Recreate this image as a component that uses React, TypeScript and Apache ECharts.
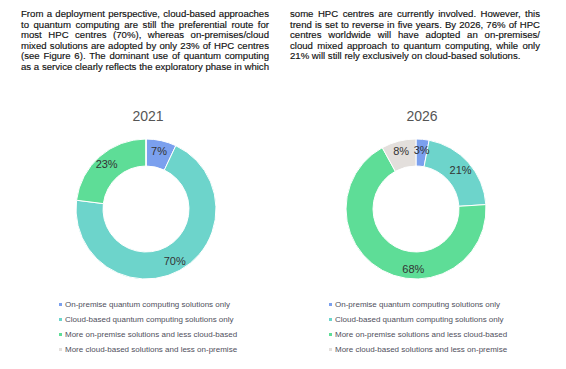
import React, { useEffect, useRef } from "react";
import * as echarts from "echarts";

const categories = [
  "On-premise quantum computing solutions only",
  "Cloud-based quantum computing solutions only",
  "More on-premise solutions and less cloud-based",
  "More cloud-based solutions and less on-premise",
];
const colors = ["#7ba0ee", "#6dd4cb", "#5edd97", "#e3dfdc"];
const values2021 = [7, 70, 23, 0];
const values2026 = [3, 21, 68, 8];
const years = ["2021", "2026"];

const leftLines = [
  "From a deployment perspective, cloud-based approaches",
  "to quantum computing are still the preferential route for",
  "most HPC centres (70%), whereas on-premises/cloud",
  "mixed solutions are adopted by only 23% of HPC centres",
  "(see Figure 6). The dominant use of quantum computing",
  "as a service clearly reflects the exploratory phase in which",
];
const rightLines = [
  "some HPC centres are currently involved. However, this",
  "trend is set to reverse in five years. By 2026, 76% of HPC",
  "centres worldwide will have adopted an on-premises/",
  "cloud mixed approach to quantum computing, while only",
  "21% will still rely exclusively on cloud-based solutions.",
];

function buildData(vals: number[], labelOffsets: Record<number, number[]>) {
  return categories.map((name, i) => {
    const item: any = { name, value: vals[i], itemStyle: { color: colors[i] } };
    if (vals[i] === 0) item.label = { show: false };
    else if (labelOffsets[i]) item.label = { offset: labelOffsets[i] };
    return item;
  });
}

export default function App() {
  const ref = useRef<HTMLDivElement>(null);
  useEffect(() => {
    if (!ref.current) return;
    const chart = echarts.init(ref.current, undefined, { renderer: "svg" });
    const centers = [146, 416];
    const titleCenters = [143, 417];
    const legendLeft = [52, 322];
    const offsets = [{}, { 2: [26, 8] }];
    chart.setOption({
      animation: false,
      title: years.map((y, i) => ({
        text: y,
        left: titleCenters[i],
        top: 104,
        textAlign: "center",
        textStyle: {
          fontSize: 14,
          fontWeight: "normal",
          color: "#555",
          fontFamily: "Liberation Sans, Arial, sans-serif",
        },
      })),
      legend: legendLeft.map((l) => ({
        orient: "vertical",
        left: l,
        top: 294.5,
        itemWidth: 5,
        itemHeight: 5,
        itemGap: 5,
        icon: "rect",
        selectedMode: false,
        data: categories,
        textStyle: {
          fontSize: 8,
          lineHeight: 10,
          color: "#4f4f5c",
          fontFamily: "Liberation Sans, Arial, sans-serif",
          padding: [0, 0, 0, -3],
        },
      })),
      series: [values2021, values2026].map((vals, i) => ({
        type: "pie",
        center: [centers[i], 209],
        radius: [43, 70],
        startAngle: 90,
        clockwise: true,
        itemStyle: { borderColor: "#fff", borderWidth: 1 },
        label: {
          show: true,
          position: "inside",
          formatter: "{c}%",
          fontSize: 11,
          color: "#333",
          fontFamily: "Liberation Sans, Arial, sans-serif",
        },
        labelLine: { show: false },
        emphasis: { disabled: true },
        data: buildData(vals, offsets[i]),
      })),
    });
    return () => chart.dispose();
  }, []);

  const lineStyle = (justify: boolean): React.CSSProperties => ({
    fontFamily: "Liberation Sans, Arial, sans-serif",
    fontSize: 9.6,
    lineHeight: "10.5px",
    height: 10.5,
    color: "#111",
    whiteSpace: "nowrap",
    textAlign: justify ? "justify" : "left",
    textAlignLast: justify ? "justify" : "left",
    WebkitTextStroke: "0.15px #111",
  });

  return (
    <div style={{ position: "absolute", left: 0, top: 0, width: 566, height: 369, background: "#fff" }}>
      <div ref={ref} style={{ position: "absolute", left: 0, top: 0, width: 566, height: 369 }} />
      <div style={{ position: "absolute", left: 21, top: 9, width: 248 }}>
        {leftLines.map((t, i) => (
          <div key={i} style={lineStyle(true)}>{t}</div>
        ))}
      </div>
      <div style={{ position: "absolute", left: 290, top: 9, width: 250 }}>
        {rightLines.map((t, i) => (
          <div key={i} style={lineStyle(i < rightLines.length - 1)}>{t}</div>
        ))}
      </div>
    </div>
  );
}
